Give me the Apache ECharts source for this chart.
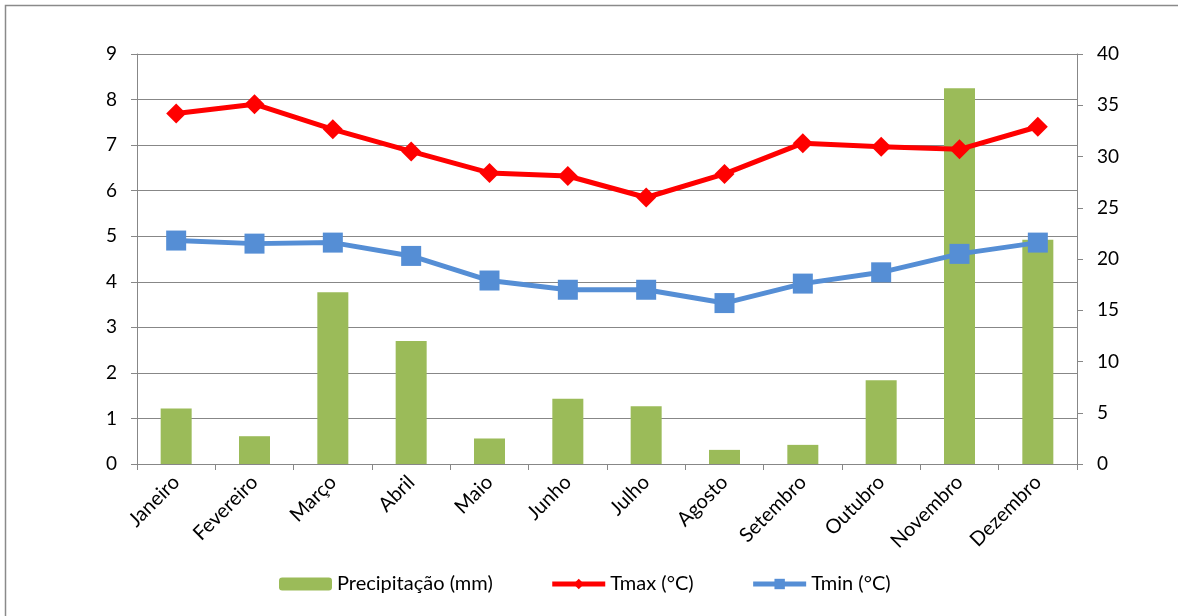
<!DOCTYPE html>
<html>
<head>
<meta charset="utf-8">
<script src="https://cdn.jsdelivr.net/npm/echarts@6/dist/echarts.min.js"></script>
<style>
  html, body { margin: 0; padding: 0; background: #fff; }
  #chart { width: 1178px; height: 616px; }
</style>
</head>
<body>
<div id="chart"></div>
<script>
// Monthly climate data
const months = ['Janeiro', 'Fevereiro', 'Março', 'Abril', 'Maio', 'Junho',
                'Julho', 'Agosto', 'Setembro', 'Outubro', 'Novembro', 'Dezembro'];
const precipitation = [1.22, 0.61, 3.77, 2.70, 0.56, 1.43, 1.27, 0.31, 0.42, 1.84, 8.25, 4.92];
const tmax = [34.2, 35.1, 32.65, 30.5, 28.4, 28.1, 26.0, 28.3, 31.3, 30.95, 30.7, 32.9];
const tmin = [21.8, 21.5, 21.6, 20.3, 17.9, 17.0, 17.0, 15.7, 17.6, 18.7, 20.5, 21.6];

const FONT = 'Lato';
const AXIS_GREY = '#878787';

const chart = echarts.init(document.getElementById('chart'), null, { renderer: 'canvas' });

chart.setOption({
  animation: false,
  backgroundColor: '#fff',
  textStyle: { fontFamily: FONT, color: '#000' },
  graphic: [{
    type: 'rect',
    shape: { x: 5.5, y: 5.5, width: 1200, height: 700 },
    style: { fill: 'none', stroke: '#8a8a8a', lineWidth: 1.5 },
    silent: true
  }],
  grid: { left: 137, right: 101, top: 54, bottom: 152 },
  legend: {
    left: 274,
    top: 569,
    itemGap: 57,
    itemWidth: 53,
    itemHeight: 13,
    lineStyle: { width: 5 },
    textStyle: { fontFamily: FONT, fontSize: 20, color: '#000' },
    data: [
      { name: 'Precipitação (mm)' },
      { name: 'Tmax (°C)' },
      { name: 'Tmin (°C)' }
    ]
  },
  xAxis: {
    type: 'category',
    data: months,
    boundaryGap: true,
    axisLine: { lineStyle: { color: AXIS_GREY, width: 1 } },
    axisTick: { show: true, interval: 0, length: 6, lineStyle: { color: AXIS_GREY } },
    axisLabel: {
      interval: 0,
      rotate: 45,
      margin: 15,
      fontFamily: FONT,
      fontSize: 20,
      color: '#000'
    }
  },
  yAxis: [
    {
      type: 'value',
      min: 0,
      max: 9,
      interval: 1,
      axisLine: { show: true, lineStyle: { color: AXIS_GREY } },
      axisTick: { show: true, length: 6, lineStyle: { color: AXIS_GREY } },
      splitLine: { show: true, lineStyle: { color: AXIS_GREY, width: 1 } },
      axisLabel: { margin: 20, fontFamily: FONT, fontSize: 19, color: '#000' }
    },
    {
      type: 'value',
      min: 0,
      max: 40,
      interval: 5,
      position: 'right',
      axisLine: { show: true, lineStyle: { color: AXIS_GREY } },
      axisTick: { show: true, length: 6, lineStyle: { color: AXIS_GREY } },
      splitLine: { show: false },
      axisLabel: { margin: 20, fontFamily: FONT, fontSize: 19, color: '#000' }
    }
  ],
  series: [
    {
      name: 'Precipitação (mm)',
      type: 'bar',
      yAxisIndex: 0,
      data: precipitation,
      barWidth: 31,
      itemStyle: { color: '#9BBB59' },
      z: 2
    },
    {
      name: 'Tmax (°C)',
      type: 'line',
      yAxisIndex: 1,
      data: tmax,
      symbol: 'diamond',
      symbolSize: 20,
      lineStyle: { color: '#FF0000', width: 5 },
      itemStyle: { color: '#FF0000' },
      z: 3
    },
    {
      name: 'Tmin (°C)',
      type: 'line',
      yAxisIndex: 1,
      data: tmin,
      symbol: 'rect',
      symbolSize: 20,
      lineStyle: { color: '#558ED5', width: 5 },
      itemStyle: { color: '#558ED5' },
      z: 4
    }
  ]
});
</script>
</body>
</html>
